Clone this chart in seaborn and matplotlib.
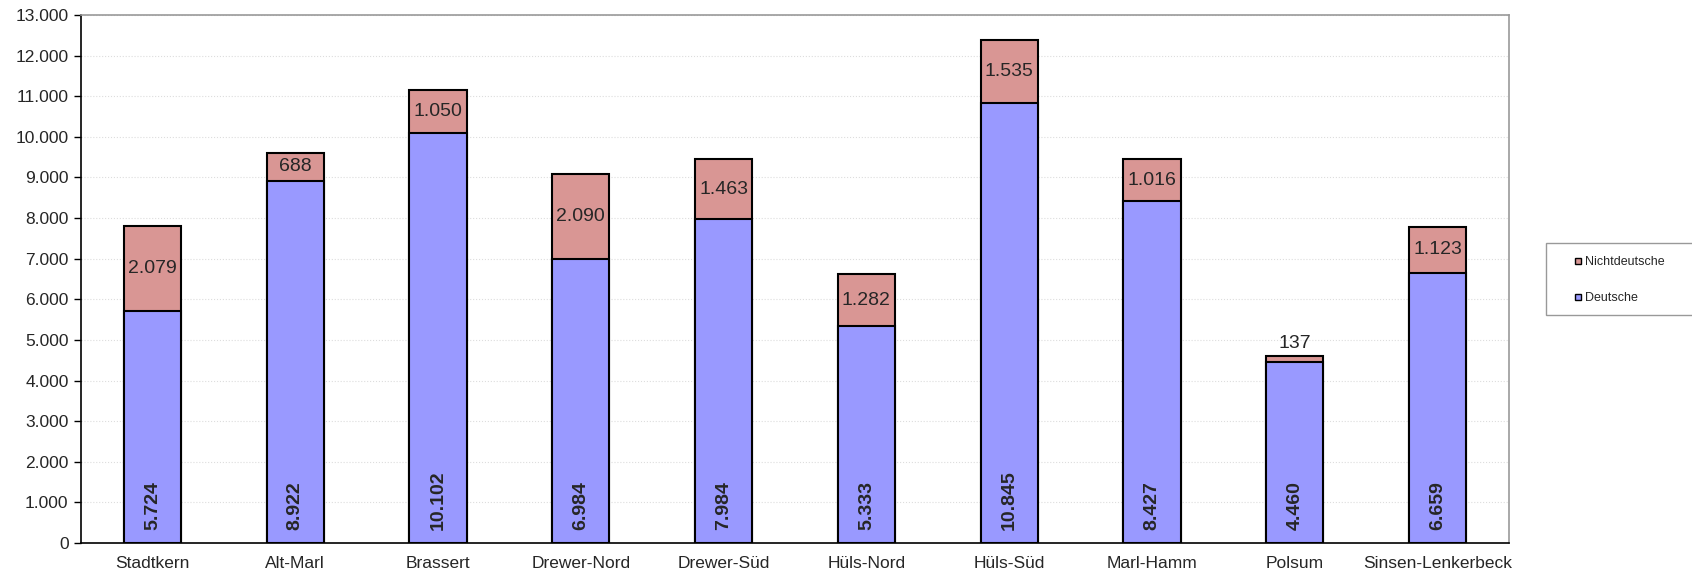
import matplotlib
matplotlib.use("Agg")
import matplotlib.pyplot as plt
import seaborn as sns
import pandas as pd
import numpy as np
from matplotlib.lines import Line2D
from matplotlib.patches import Rectangle
from matplotlib.ticker import FuncFormatter, FixedLocator

categories = ["Stadtkern", "Alt-Marl", "Brassert", "Drewer-Nord", "Drewer-Süd",
              "Hüls-Nord", "Hüls-Süd", "Marl-Hamm", "Polsum", "Sinsen-Lenkerbeck"]
deutsche = [5724, 8922, 10102, 6984, 7984, 5333, 10845, 8427, 4460, 6659]
nichtdeutsche = [2079, 688, 1050, 2090, 1463, 1282, 1535, 1016, 137, 1123]

sns.set_style("white")
plt.rcParams['font.family'] = ['Liberation Sans', 'DejaVu Sans']

col_de = "#9999FF"
col_nd = "#D99694"

df = pd.DataFrame({"Stadtteil": categories, "Deutsche": deutsche,
                   "Nichtdeutsche": nichtdeutsche})
df["Gesamt"] = df["Deutsche"] + df["Nichtdeutsche"]

W, H = 1692, 577
fig = plt.figure(figsize=(W / 100, H / 100), dpi=100)
ax = fig.add_axes([81/W, 1-543/H, (1509-81)/W, (543-15)/H])

sns.barplot(data=df, x="Stadtteil", y="Gesamt", color=col_nd, width=0.4,
            edgecolor="black", linewidth=1.5, saturation=1, ax=ax, zorder=3)
sns.barplot(data=df, x="Stadtteil", y="Deutsche", color=col_de, width=0.4,
            edgecolor="black", linewidth=1.5, saturation=1, ax=ax, zorder=4)

ax.set_xlim(-0.5, len(categories) - 0.5)
ax.set_ylim(0, 13000)
ax.set_yticks(np.arange(0, 13001, 1000))
ax.yaxis.set_major_formatter(FuncFormatter(lambda v, p: f"{int(v):,}".replace(",", ".")))
ax.set_xlabel("")
ax.set_ylabel("")
ax.grid(axis="y", color="#dddddd", linestyle=":", linewidth=0.8, zorder=0)

ax.tick_params(axis="x", which="major", length=0, labelsize=12.5, pad=9)
ax.xaxis.set_minor_locator(FixedLocator(np.arange(-0.5, len(categories), 1.0)))
ax.tick_params(axis="x", which="minor", length=5, color="#999999", width=1, direction="out")
ax.tick_params(axis="y", which="major", length=5, color="black", width=1,
               direction="out", labelsize=12.5, left=True, pad=4)

for side in ["left", "bottom"]:
    ax.spines[side].set_color("black")
    ax.spines[side].set_linewidth(1.2)
for side in ["top", "right"]:
    ax.spines[side].set_color("#999999")
    ax.spines[side].set_linewidth(1.2)

for i, (d, n) in enumerate(zip(deutsche, nichtdeutsche)):
    ax.annotate(f"{d:,}".replace(",", "."), xy=(i, 0), xytext=(0, 9),
                textcoords="offset points", ha="center", va="bottom",
                rotation=90, fontsize=14, fontweight="bold", zorder=6)
    lbl = f"{n:,}".replace(",", ".")
    if n < 400:
        ax.annotate(lbl, xy=(i, d + n), xytext=(0, 3), textcoords="offset points",
                    ha="center", va="bottom", fontsize=14, zorder=6)
    else:
        ax.text(i, d + n / 2, lbl, ha="center", va="center", fontsize=14, zorder=6)

# legend frame (extends past right edge like the original)
fig.patches.append(Rectangle((1546/W, 1-315/H), (1720-1546)/W, (315-243)/H,
                             transform=fig.transFigure, facecolor="white",
                             edgecolor="#999999", linewidth=1.0, clip_on=False))

handles = [Line2D([0], [0], marker="s", linestyle="none", markersize=5,
                  markerfacecolor=col_nd, markeredgecolor="black", markeredgewidth=1.0),
           Line2D([0], [0], marker="s", linestyle="none", markersize=5,
                  markerfacecolor=col_de, markeredgecolor="black", markeredgewidth=1.0)]
leg = fig.legend(handles, ["Nichtdeutsche", "Deutsche"], loc="upper left",
                 bbox_to_anchor=(1574/W, 1-256/H), fontsize=9, frameon=False,
                 handletextpad=0.3, labelspacing=1.95, borderpad=0,
                 handlelength=0.6, borderaxespad=0)

fig.savefig("out.png", dpi=100)
